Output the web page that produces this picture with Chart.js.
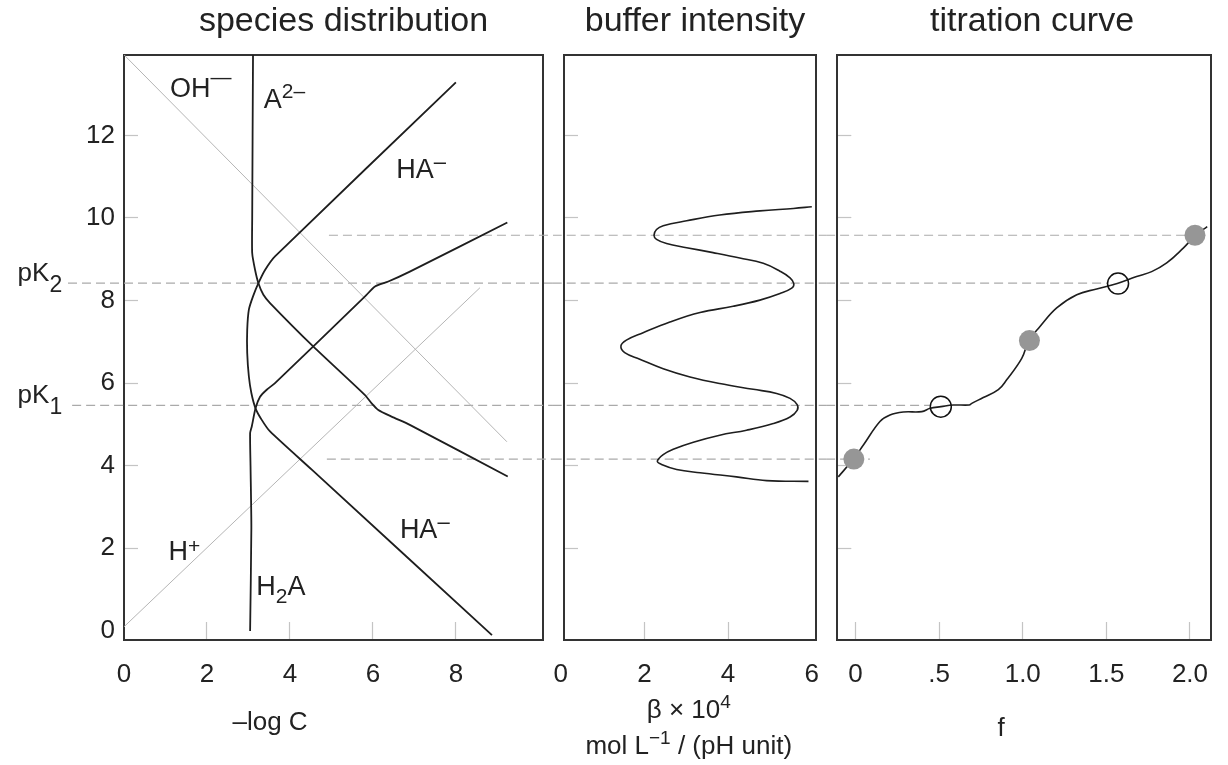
<!DOCTYPE html>
<html lang="en">

<head>
    <meta charset="UTF-8">
    <meta name="viewport" content="width=device-width, initial-scale=1.0">
    <title>species distribution / buffer intensity / titration curve</title>
    <script src="https://cdn.jsdelivr.net/npm/chart.js@4.4.0/dist/chart.umd.min.js"></script>
    <style>
        html, body { margin: 0; padding: 0; background: #fff; overflow: hidden; }
        #wrap { position: relative; width: 1228px; height: 765px; }
        canvas { position: absolute; top: 0; }
    </style>
</head>

<body>
    <div id="wrap">
        <canvas id="c1" width="687" height="765" style="left:0px"></canvas>
        <canvas id="c2" width="284" height="765" style="left:553px"></canvas>
        <canvas id="c3" width="403" height="765" style="left:825px"></canvas>
    </div>

    <script>
        // ---- data ----

        // species distribution: [-log C, pH]
        const ohLine = [[0, 13.95], [9.23, 4.58]];
        const hLine = [[0, 0.1], [8.58, 8.31]];
        const a2Line = [[3.11, 13.95], [3.09, 9.96], [3.09, 9.15], [3.16, 8.74], [3.24, 8.42], [3.36, 8.14],
            [3.52, 7.94], [4.56, 6.89], [5.81, 5.71], [5.97, 5.51], [6.13, 5.35], [6.45, 5.19], [6.89, 4.99], [9.25, 3.74]];
        const haLine = [[8.0, 13.28], [3.64, 9.07], [3.40, 8.74], [3.24, 8.42], [3.11, 8.10], [3.01, 7.78],
            [2.97, 7.29], [2.97, 6.73], [3.01, 6.16], [3.07, 5.76], [3.17, 5.39], [3.32, 5.11], [3.52, 4.83],
            [4.52, 3.91], [8.87, -0.1]];
        const h2aLine = [[3.04, 0.0], [3.07, 2.5], [3.05, 4.0], [3.04, 4.79], [3.08, 4.95], [3.17, 5.39],
            [3.28, 5.67], [3.44, 5.84], [3.64, 6.0], [5.81, 8.10], [6.05, 8.34], [6.37, 8.46], [6.89, 8.70], [9.24, 9.89]];

        // buffer intensity: [beta x 10^4, pH]
        const betaCurve = [[6.00, 10.27], [5.56, 10.23], [4.76, 10.17], [3.80, 10.07], [3.01, 9.93], [2.45, 9.81],
            [2.29, 9.72], [2.23, 9.58], [2.29, 9.48], [2.53, 9.38], [3.01, 9.28], [3.64, 9.16], [4.28, 9.03],
            [4.84, 8.90], [5.24, 8.71], [5.48, 8.55], [5.57, 8.41], [5.52, 8.30], [5.24, 8.17], [4.76, 8.01],
            [4.12, 7.86], [3.33, 7.71], [2.61, 7.48], [1.97, 7.22], [1.57, 7.04], [1.44, 6.90], [1.53, 6.74],
            [1.89, 6.58], [2.45, 6.35], [3.09, 6.15], [3.80, 5.99], [4.60, 5.85], [5.16, 5.75], [5.48, 5.63],
            [5.65, 5.48], [5.65, 5.34], [5.48, 5.18], [5.08, 5.02], [4.44, 4.86], [3.80, 4.74], [3.17, 4.57],
            [2.69, 4.40], [2.45, 4.27], [2.31, 4.11], [2.41, 4.03], [2.77, 3.91], [3.33, 3.83], [4.20, 3.73],
            [4.92, 3.64], [5.92, 3.62]];

        // titration curve: [f, pH]
        const titration = [[-0.103, 3.73], [-0.013, 4.16], [0.047, 4.50], [0.146, 5.07], [0.206, 5.23],
            [0.286, 5.30], [0.396, 5.31], [0.446, 5.39], [0.511, 5.43], [0.585, 5.47], [0.680, 5.47],
            [0.695, 5.51], [0.764, 5.65], [0.854, 5.84], [0.904, 6.08], [0.994, 6.60], [1.037, 7.03],
            [1.103, 7.37], [1.203, 7.82], [1.323, 8.14], [1.442, 8.28], [1.565, 8.41], [1.681, 8.58],
            [1.771, 8.70], [1.861, 8.91], [1.960, 9.27], [2.034, 9.58], [2.103, 9.79]];
        const eqPoints = [[-0.01, 4.16], [1.04, 7.03], [2.03, 9.58]];
        const halfPoints = [[0.51, 5.43], [1.57, 8.41]];

        // dashed reference levels (pH) and how far they run in each panel
        const refPH = [9.58, 8.42, 5.46, 4.16];
        const refFrom1 = [4.94, -1.35, -1.25, 4.89];
        const refTo1 = 10.34;
        const refSpan2 = [-0.19, 6.34];
        const refFrom3 = -0.176;
        const refTo3 = [2.03, 1.51, 0.45, 0.086];

        // ticks
        const pHTicks = [0, 2, 4, 6, 8, 10, 12];
        const pHMarks = [2, 4, 6, 8, 10, 12];
        const logCTicks = [0, 2, 4, 6, 8];
        const logCMarks = [2, 4, 6, 8];
        const betaTicks = [0, 2, 4, 6];
        const betaMarks = [2, 4];
        const fTicks = [0, 0.5, 1, 1.5, 2];
        const fLabels = ['0', '.5', '1.0', '1.5', '2.0'];

        // ---- drawing ----
        const FONT = "'Liberation Sans', Arial, Helvetica, sans-serif";
        const INK = '#222';
        const FRAME = '#333';
        const TICK = '#c4c4c4';
        const DASH = '#aaaaaa';
        const NONE = 'rgba(0,0,0,0)';

        const pts = a => a.map(p => ({ x: p[0], y: p[1] }));

        function lineSet(data, color, width, extra) {
            return Object.assign({
                type: 'line', data: pts(data), borderColor: color, borderWidth: width,
                pointRadius: 0, fill: false, tension: 0
            }, extra || {});
        }

        function dotSet(data, fillColor, lineColor, lineWidth) {
            return {
                type: 'scatter', data: pts(data), showLine: false, pointStyle: 'circle',
                pointRadius: 10.5, pointHoverRadius: 10.5,
                pointBackgroundColor: fillColor, pointBorderColor: lineColor, pointBorderWidth: lineWidth
            };
        }

        // text with sub/superscripts: parts = [text, size, dy]
        function drawRich(ctx, parts, x, y, align) {
            let w = 0;
            parts.forEach(p => { ctx.font = p[1] + 'px ' + FONT; w += ctx.measureText(p[0]).width; });
            let cx = align === 'center' ? x - w / 2 : align === 'right' ? x - w : x;
            ctx.textAlign = 'left';
            ctx.textBaseline = 'alphabetic';
            parts.forEach(p => {
                ctx.font = p[1] + 'px ' + FONT;
                ctx.fillText(p[0], cx, y + p[2]);
                cx += ctx.measureText(p[0]).width;
            });
        }

        // labels placed in data units of the panel
        function notesPlugin(items) {
            return {
                id: 'notes',
                afterDatasetsDraw(chart) {
                    const { ctx, scales: { x, y } } = chart;
                    ctx.save();
                    ctx.fillStyle = INK;
                    items.forEach(n => drawRich(ctx, n.parts, x.getPixelForValue(n.x), y.getPixelForValue(n.y), n.align || 'left'));
                    ctx.restore();
                }
            };
        }

        const fixedTicks = values => s => { s.ticks = values.map(v => ({ value: v })); };
        const markColor = marks => c => (c.tick && marks.includes(c.tick.value)) ? TICK : NONE;

        // axis used only to draw the top / right side of the frame
        function frameAxis(pos, size) {
            return {
                type: 'linear', position: pos, axis: pos === 'top' ? 'x' : 'y', display: true,
                grid: { display: false, drawTicks: false },
                ticks: { display: false },
                border: { display: true, color: FRAME, width: 2 },
                afterFit: s => { if (pos === 'top') s.height = size; else s.width = size; }
            };
        }

        function makeChart(id, cfg) {
            return new Chart(document.getElementById(id), {
                type: 'scatter',
                data: { datasets: cfg.datasets },
                options: {
                    responsive: false,
                    animation: false,
                    events: [],
                    layout: { padding: { left: cfg.padLeft || 0, right: 0, top: 0, bottom: 0 } },
                    plugins: {
                        legend: { display: false },
                        tooltip: { enabled: false },
                        title: {
                            display: true, text: cfg.title, color: INK,
                            font: { family: FONT, size: 34, weight: 'normal', lineHeight: 1.2 },
                            padding: { top: 1, bottom: 13 }
                        }
                    },
                    scales: {
                        x: {
                            type: 'linear', position: 'bottom', min: cfg.xMin, max: cfg.xMax,
                            afterBuildTicks: fixedTicks(cfg.xTicks),
                            // fixed height, and no side padding so the frame stays where it is
                            afterFit: s => { s.height = 125; s.paddingLeft = 0; s.paddingRight = 0; },
                            grid: { drawOnChartArea: false, drawTicks: true, tickLength: -18, tickWidth: 1.2, tickColor: markColor(cfg.xMarks) },
                            border: { display: true, color: FRAME, width: 2 },
                            ticks: {
                                padding: 37, color: INK, font: { family: FONT, size: 26 },
                                maxRotation: 0, minRotation: 0, autoSkip: false, callback: cfg.xLabel
                            }
                        },
                        y: {
                            type: 'linear', position: 'left', min: -0.22, max: 13.95,
                            afterBuildTicks: fixedTicks(pHTicks),
                            afterFit: s => { s.width = cfg.yWidth; s.paddingTop = 0; s.paddingBottom = 0; },
                            grid: { drawOnChartArea: false, drawTicks: true, tickLength: -14, tickWidth: 1.2, tickColor: markColor(pHMarks) },
                            border: { display: true, color: FRAME, width: 2 },
                            ticks: {
                                display: cfg.yLabels, padding: 23, color: INK,
                                font: { family: FONT, size: 26 }, callback: v => String(v)
                            }
                        },
                        xTop: frameAxis('top', 0),
                        yRight: frameAxis('right', cfg.rightWidth)
                    }
                },
                plugins: [notesPlugin(cfg.notes)]
            });
        }

        const black = '#1e1e1e';
        const grey = '#b5b5b5';

        // panel 1: species distribution
        makeChart('c1', {
            title: 'species distribution',
            xMin: 0, xMax: 10.1, xTicks: logCTicks, xMarks: logCMarks, xLabel: v => String(v),
            yWidth: 124, yLabels: true, rightWidth: 144,
            datasets: [
                lineSet(a2Line, black, 1.8, { tension: 0.2 }),
                lineSet(haLine, black, 1.8, { tension: 0.2 }),
                lineSet(h2aLine, black, 1.8, { tension: 0.2 }),
                lineSet(ohLine, grey, 1),
                lineSet(hLine, grey, 1)
            ].concat(refPH.map((v, i) => lineSet([[refFrom1[i], v], [refTo1, v]], DASH, 1.2, { borderDash: [9, 5], clip: false }))),
            notes: [
                { x: 1.11, y: 12.94, parts: [['OH', 27, 0], ['\u2014', 21, -13]] },
                { x: 3.37, y: 12.66, parts: [['A', 27, 0], ['2\u2013', 21, -10]] },
                { x: 6.56, y: 10.97, parts: [['HA', 27, 0], ['\u2013', 22, -9]] },
                { x: 6.65, y: 2.24, parts: [['HA', 27, 0], ['\u2013', 22, -9]] },
                { x: 1.07, y: 1.72, parts: [['H', 27, 0], ['+', 21, -7]] },
                { x: 3.19, y: 0.87, parts: [['H', 27, 0], ['2', 21, 8], ['A', 27, 0]] },
                { x: -1.49, y: 8.48, align: 'right', parts: [['pK', 26, 0], ['2', 23, 11]] },
                { x: -1.49, y: 5.52, align: 'right', parts: [['pK', 26, 0], ['1', 23, 11]] },
                { x: 3.52, y: -2.39, align: 'center', parts: [['\u2013log C', 26, 0]] }
            ]
        });

        // panel 2: buffer intensity
        makeChart('c2', {
            title: 'buffer intensity',
            xMin: 0.08, xMax: 6.1, xTicks: betaTicks, xMarks: betaMarks, xLabel: v => String(v),
            yWidth: 11, yLabels: false, rightWidth: 21,
            datasets: [
                lineSet(betaCurve, black, 1.6, { tension: 0.4 })
            ].concat(refPH.map(v => lineSet([[refSpan2[0], v], [refSpan2[1], v]], DASH, 1.2, { borderDash: [9, 5], clip: false }))),
            notes: [
                { x: 3.06, y: -2.1, align: 'center', parts: [['\u03b2 \u00d7 10', 26, 0]
                    , ['4', 19, -10]] },
                { x: 3.06, y: -2.97, align: 'center', parts: [['mol L', 26, 0], ['\u22121', 19, -10], [' / (pH unit)', 26, 0]] }
            ]
        });

        // panel 3: titration curve
        makeChart('c3', {
            title: 'titration curve',
            padLeft: 11,
            xMin: -0.109, xMax: 2.124, xTicks: fTicks, xMarks: fTicks, xLabel: (v, i) => fLabels[i],
            yWidth: 1.3, yLabels: false, rightWidth: 17.3,
            datasets: [
                dotSet(halfPoints, NONE, '#111', 1.5),
                dotSet(eqPoints, '#969696', '#969696', 0),
                lineSet(titration, black, 1.6, { tension: 0.4 })
            ].concat(refPH.map((v, i) => lineSet([[refFrom3, v], [refTo3[i], v]], DASH, 1.2, { borderDash: [9, 5], clip: false }))),
            notes: [
                { x: 0.87, y: -2.55, align: 'center', parts: [['f', 26, 0]] }
            ]
        });
    </script>
</body>

</html>
